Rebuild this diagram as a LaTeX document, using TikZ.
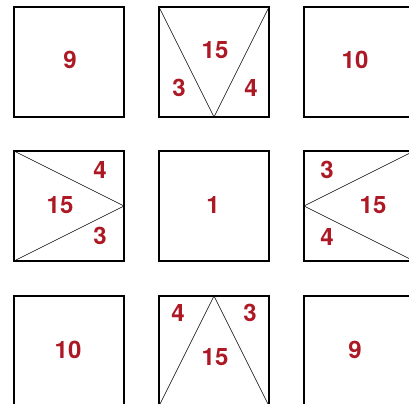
\documentclass[tikz,border=0pt]{standalone}
\usepackage{fontspec}
\setmainfont{TeX Gyre Heros}
\definecolor{numred}{RGB}{172,24,36}
\tikzset{
  tile/.style={draw, line width=1.3bp, inner sep=0pt, outer sep=0pt, minimum size=110bp},
  cut/.style={line width=0.6bp},
  num/.style={text=numred, font=\fontsize{24bp}{26bp}\selectfont\bfseries, inner sep=0pt}
}
\begin{document}
\begin{tikzpicture}[x=1bp, y=-1bp]
  \useasboundingbox (0,0) rectangle (409,404);
  % Tiles
  \node[tile] (tl) at (69,62) {};
  \node[tile] (tm) at (214,62) {};
  \node[tile] (tr) at (359,62) {};
  \node[tile] (ml) at (69,206) {};
  \node[tile] (mm) at (214,206) {};
  \node[tile] (mr) at (359,206) {};
  \node[tile] (bl) at (69,351) {};
  \node[tile] (bm) at (214,351) {};
  \node[tile] (br) at (359,351) {};
  % Cuts
  \draw[cut] (tm.north west) -- (tm.south) -- (tm.north east);
  \draw[cut] (ml.north west) -- (ml.east) -- (ml.south west);
  \draw[cut] (mr.north east) -- (mr.west) -- (mr.south east);
  \draw[cut] (bm.south west) -- (bm.north) -- (bm.south east);
  % Numbers
  \node[num] (tl9) at (70,60) {9};
  \node[num] (tm15) at (215,50) {15};
  \node[num] (tm3) at (179,88) {3};
  \node[num] (tm4) at (251,88) {4};
  \node[num] (tr10) at (355,60) {10};
  \node[num] (ml4) at (100,170) {4};
  \node[num] (ml15) at (60,205) {15};
  \node[num] (ml3) at (100,236) {3};
  \node[num] (mm1) at (213,205) {1};
  \node[num] (mr3) at (327,170) {3};
  \node[num] (mr15) at (373,205) {15};
  \node[num] (mr4) at (327,237) {4};
  \node[num] (bl10) at (68,350) {10};
  \node[num] (bm4) at (178,313) {4};
  \node[num] (bm3) at (250,313) {3};
  \node[num] (bm15) at (215,357) {15};
  \node[num] (br9) at (355,350) {9};
\end{tikzpicture}
\end{document}
